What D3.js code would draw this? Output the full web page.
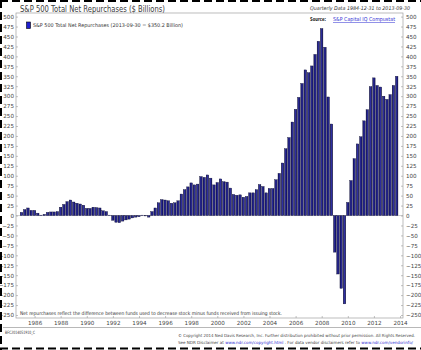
<!DOCTYPE html>
<html>
<head>
<meta charset="utf-8">
<script src="https://cdn.jsdelivr.net/npm/d3@7"></script>
<style>
  body { margin: 0; background: #fff; }
  svg { display: block; font-family: 'DejaVu Sans', sans-serif; }
</style>
</head>
<body>
<div id="grafica"></div>
<script>
// ---- datos ($ miles de millones, trimestral) ----
primerTrimestre = new Date(1984, 11, 31)

netas = [
    8,  15,  19,  13,  13,   6,   1,   3,   8,   9,   9,  10,
   21,  28,  35,  39,  34,  31,  29,  26,  18,  18,  21,  20,
   19,  12,  10,   1, -12, -17, -18, -14, -11,  -9,  -6,  -4,
   -3,   1,  -1,  -4,  10,  19,  32,  40,  39,  37,  31,  32,
   37,  54,  65,  72,  82,  77,  79,  98,  96, 102,  94,  77,
   83,  92,  85,  84,  69,  53,  51,  52,  46,  48,  57,  57,
   65,  78,  73,  57,  68,  68,  90, 106, 132, 168, 196, 235,
  267, 297, 332, 366, 359, 376, 405, 438, 470, 423, 298, 230,
  -92,-147,-183,-222,  33,  88, 143, 180, 198, 238, 266, 324,
  346, 327, 323, 300, 292, 304, 327, 350
]

yTicks = [500, 475, 450, 425, 400, 375, 350, 325, 300, 275, 250, 225, 200, 175, 150,
          125, 100, 75, 50, 25, 0, -25, -50, -75, -100, -125, -150, -175, -200, -225, -250]
xTicks = [1986, 1988, 1990, 1992, 1994, 1996, 1998, 2000, 2002, 2004, 2006, 2008, 2010, 2012, 2014]

titulo     = 'S&P 500 Total Net Repurchases ($ Billions)'
subtitulo  = 'Quarterly Data 1984-12-31 to 2013-09-30'
leyendaTxt = 'S&P 500 Total Net Repurchases (2013-09-30 = $350.2 Billion)'
fuenteTxt  = 'S&P Capital IQ Compustat'
notaTxt    = 'Net repurchases reflect the difference between funds used to decrease stock minus funds received from issuing stock.'
codigoTxt  = 'BFC2014051910_C'
copyTxt    = '© Copyright 2014 Ned Davis Research, Inc. Further distribution prohibited without prior permission. All Rights Reserved.'

// cada barra cae en el fin de trimestre, empezando en primerTrimestre
datos = netas.map((v, i) => ({
  fecha: new Date(primerTrimestre.getFullYear(), primerTrimestre.getMonth() + 1 + 3 * i, 0),
  valor: v
}))

// ---- lienzo ----
ancho_total = 421
alto_total  = 350
margin = { left: 16, right: 18, top: 13, bottom: 32 }

svg = d3
        .select('#grafica')
        .append('svg')
        .attr('width', ancho_total)
        .attr('height', alto_total)

svg
  .append('rect')
  .attr('width', ancho_total)
  .attr('height', alto_total)
  .attr('fill', '#fff')

x = d3.scaleTime()
      .domain([new Date(1984, 6, 30), new Date(2014, 2, 25)])
      .range([margin.left, ancho_total - margin.right])

y = d3.scaleLinear()
      .domain([-250, 500])
      .range([315, 16.6])

// degradado de las barras
grad = svg.append('defs')
          .append('linearGradient')
          .attr('id', 'barra')
          .attr('x1', '0%').attr('x2', '100%')
grad.append('stop').attr('offset', '0%').attr('stop-color', '#0c0c4e')
grad.append('stop').attr('offset', '50%').attr('stop-color', '#3030a4')
grad.append('stop').attr('offset', '100%').attr('stop-color', '#0c0c4e')

// marco del área de la gráfica
svg
  .append('rect')
  .attr('x', margin.left)
  .attr('y', margin.top)
  .attr('width', ancho_total - margin.right - margin.left)
  .attr('height', 318 - margin.top)
  .attr('fill', 'none')
  .attr('stroke', '#a0a0a0')
  .attr('stroke-width', 0.7)

// ejes
yLeft = svg.append('g')
           .attr('transform', `translate(${margin.left}, 0)`)
           .call(d3.axisLeft(y).tickValues(yTicks).tickSize(-2).tickPadding(2))
yRight = svg.append('g')
            .attr('transform', `translate(${ancho_total - margin.right}, 0)`)
            .call(d3.axisRight(y).tickValues(yTicks).tickSize(-2).tickPadding(3))
xBottom = svg.append('g')
             .attr('transform', 'translate(0, 318)')
             .call(d3.axisBottom(x)
                     .tickValues(xTicks.map((a) => new Date(a, 0, 1)))
                     .tickFormat(d3.timeFormat('%Y'))
                     .tickSize(-2)
                     .tickPadding(3))

;[yLeft, yRight, xBottom].forEach((g) => {
  g.select('.domain').remove()
  g.selectAll('line').attr('stroke', '#999').attr('stroke-width', 0.6)
  g.selectAll('text')
   .attr('font-size', '5.6px')
   .attr('fill', '#444')
   .attr('font-family', 'DejaVu Sans')
})

// línea de cero
svg
  .append('line')
  .attr('x1', margin.left)
  .attr('x2', ancho_total - margin.right)
  .attr('y1', y(0))
  .attr('y2', y(0))
  .attr('stroke', '#9a9a9a')
  .attr('stroke-width', 0.5)

// barras
bw = 2.5
svg
  .append('g')
  .selectAll('rect')
  .data(datos)
  .enter()
  .append('rect')
    .attr('x', (d) => x(d.fecha) - bw / 2)
    .attr('y', (d) => y(Math.max(0, d.valor)))
    .attr('width', bw)
    .attr('height', (d) => Math.abs(y(d.valor) - y(0)))
    .attr('fill', 'url(#barra)')
    .attr('stroke', '#08082e')
    .attr('stroke-width', 0.35)

// títulos
svg
  .append('text')
  .attr('x', 20)
  .attr('y', 11.5)
  .attr('font-size', '8.6px')
  .attr('fill', '#3a3a3a')
  .attr('textLength', 145)
  .attr('lengthAdjust', 'spacingAndGlyphs')
  .text(titulo)

svg
  .append('text')
  .attr('x', 410)
  .attr('y', 9.5)
  .attr('text-anchor', 'end')
  .attr('font-size', '5.2px')
  .attr('font-style', 'italic')
  .attr('fill', '#333')
  .attr('textLength', 100)
  .attr('lengthAdjust', 'spacingAndGlyphs')
  .text(subtitulo)

// leyenda
svg
  .append('rect')
  .attr('x', 26.5)
  .attr('y', 22)
  .attr('width', 4)
  .attr('height', 6.5)
  .attr('fill', '#1f1fd0')
  .attr('stroke', '#000')
  .attr('stroke-width', 0.6)

svg
  .append('text')
  .attr('x', 33)
  .attr('y', 27.3)
  .attr('font-size', '5.2px')
  .attr('fill', '#333')
  .attr('textLength', 150)
  .attr('lengthAdjust', 'spacingAndGlyphs')
  .text(leyendaTxt)

// fuente
svg
  .append('text')
  .attr('x', 310)
  .attr('y', 21)
  .attr('font-size', '5.4px')
  .attr('font-weight', 'bold')
  .attr('fill', '#222')
  .attr('textLength', 16)
  .attr('lengthAdjust', 'spacingAndGlyphs')
  .text('Source:')

svg
  .append('text')
  .attr('x', 333)
  .attr('y', 21)
  .attr('font-size', '5.4px')
  .attr('fill', '#3434d4')
  .attr('text-decoration', 'underline')
  .attr('textLength', 62)
  .attr('lengthAdjust', 'spacingAndGlyphs')
  .text(fuenteTxt)

// nota dentro del área
svg
  .append('text')
  .attr('x', 20)
  .attr('y', 315)
  .attr('font-size', '5px')
  .attr('fill', '#333')
  .attr('textLength', 262)
  .attr('lengthAdjust', 'spacingAndGlyphs')
  .text(notaTxt)

// pie
svg
  .append('line')
  .attr('x1', 3)
  .attr('x2', ancho_total)
  .attr('y1', 327.5)
  .attr('y2', 327.5)
  .attr('stroke', '#999')
  .attr('stroke-width', 0.7)

svg
  .append('text')
  .attr('x', 5)
  .attr('y', 333.5)
  .attr('font-size', '4.5px')
  .attr('fill', '#333')
  .attr('textLength', 30)
  .attr('lengthAdjust', 'spacingAndGlyphs')
  .text(codigoTxt)

svg
  .append('text')
  .attr('x', 178)
  .attr('y', 337)
  .attr('font-size', '4.2px')
  .attr('fill', '#444')
  .attr('textLength', 237)
  .attr('lengthAdjust', 'spacingAndGlyphs')
  .text(copyTxt)

pie2 = svg
         .append('text')
         .attr('x', 178)
         .attr('y', 343.5)
         .attr('font-size', '4.2px')
         .attr('fill', '#444')
         .attr('textLength', 235)
         .attr('lengthAdjust', 'spacingAndGlyphs')
pie2.append('tspan').text('See NDR Disclaimer at ')
pie2.append('tspan').attr('fill', '#3434d4').text('www.ndr.com/copyright.html')
pie2.append('tspan').text(' . For data vendor disclaimers refer to ')
pie2.append('tspan').attr('fill', '#3434d4').text('www.ndr.com/vendorinfo/')

// borde punteado exterior
borde = svg.append('g')
           .attr('stroke', '#000')
           .attr('stroke-width', 2)
           .attr('stroke-dasharray', '8,4')
borde.append('line').attr('x1', 0).attr('x2', ancho_total).attr('y1', 1).attr('y2', 1)
borde.append('line').attr('x1', 1).attr('x2', 1).attr('y1', 0).attr('y2', alto_total)
borde.append('line').attr('x1', 0).attr('x2', ancho_total).attr('y1', 348.5).attr('y2', 348.5)
</script>
</body>
</html>
